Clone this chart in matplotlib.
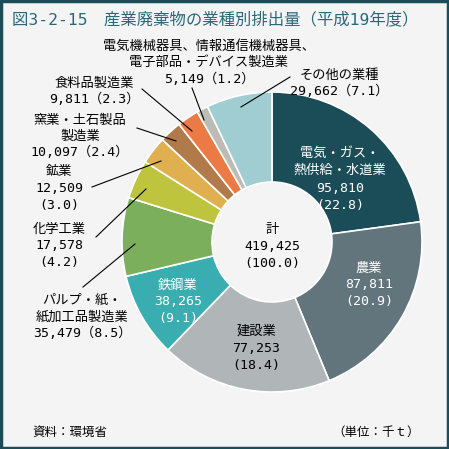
import matplotlib
matplotlib.use("Agg")
import matplotlib.pyplot as plt
from matplotlib.patches import Rectangle

plt.rcParams['font.family'] = ['DejaVu Sans Mono', 'Noto Sans CJK JP']

# data (thousand tonnes), clockwise from 12 o'clock
sectors = ['電気・ガス・熱供給・水道業', '農業', '建設業', '鉄鋼業',
           'パルプ・紙・紙加工品製造業', '化学工業', '鉱業',
           '窯業・土石製品製造業', '食料品製造業',
           '電気機械器具、情報通信機械器具、電子部品・デバイス製造業',
           'その他の業種']
values = [95810, 87811, 77253, 38265, 35479, 17578, 12509, 10097, 9811, 5149, 29662]
shares = [22.8, 20.9, 18.4, 9.1, 8.5, 4.2, 3.0, 2.4, 2.3, 1.2, 7.1]
total = 419425
colors = ['#1b4d58', '#63757c', '#b0b5b8', '#3aadb0', '#7baf5c', '#bec43e',
          '#e0b050', '#b07a4a', '#eb7a45', '#bcbcb5', '#a0cdd2']

H = 449
fig = plt.figure(figsize=(4.49, 4.49), dpi=100)
fig.patch.set_facecolor('#f4f4f4')
ax = fig.add_axes([0, 0, 1, 1])

cx, cy, r = 272, H - 242, 150
ax.pie(values, colors=colors, startangle=90, counterclock=False,
       center=(cx, cy), radius=r, frame=True,
       wedgeprops=dict(width=r * 0.6, edgecolor='white', linewidth=1.2))
ax.set_xlim(0, 449)
ax.set_ylim(0, 449)
ax.set_aspect('equal')
ax.axis('off')

ax.add_patch(Rectangle((1, 1), 447, 447, fill=False, edgecolor='#1b4d58', lw=2.5))

def fmt(v):
    return f'{v:,}'

def txt(x, y, s, color='black', ha='center', size=9.5, step=16.7):
    # one text per line so each box stays tight
    for i, part in enumerate(s.split('\n')):
        ax.text(x, H - (y + i * step), part, ha=ha, va='center', color=color, fontsize=size)

def line(x1, y1, x2, y2):
    ax.plot([x1, x2], [H - y1, H - y2], color='black', lw=0.8)

ax.text(12, H - 19, '図3-2-15　産業廃棄物の業種別排出量（平成19年度）', ha='left', va='center',
        color='#2a6878', fontsize=11.8)

# inside labels
txt(340, 153, f'電気・ガス・\n熱供給・水道業\n{fmt(values[0])}\n({shares[0]})', color='white', step=17.5)
txt(369, 268, f'農業\n{fmt(values[1])}\n({shares[1]})', color='white')
txt(256, 331, f'建設業\n{fmt(values[2])}\n({shares[2]})', step=17.5)
txt(178, 285, f'鉄鋼業\n{fmt(values[3])}\n({shares[3]})', color='white')
txt(272, 230, f'計\n{fmt(total)}\n(100.0)', step=17)

# outside labels
txt(82, 300, f'パルプ・紙・\n紙加工品製造業\n{fmt(values[4])}（{shares[4]}）')
txt(59, 229, f'化学工業\n{fmt(values[5])}\n({shares[5]})')
txt(59, 172, f'鉱業\n{fmt(values[6])}\n({shares[6]})')
txt(80, 120, f'窯業・土石製品\n製造業\n{fmt(values[7])}（{shares[7]}）', step=16)
txt(94, 83, f'食料品製造業\n{fmt(values[8])}（{shares[8]}）')
txt(209, 46, f'電気機械器具、情報通信機械器具、\n電子部品・デバイス製造業\n{fmt(values[9])}（{shares[9]}）')
txt(339, 75, f'その他の業種\n{fmt(values[10])}（{shares[10]}）', step=16)

line(83, 287, 135, 244)
line(96, 237, 146, 189)
line(92, 187, 161, 161)
line(137, 128, 176, 141)
line(142, 89, 192, 131)
line(192, 88, 204, 120)
line(290, 77, 241, 107)

txt(32, 432, '資料：環境省', ha='left', size=9)
txt(420, 432, '（単位：千ｔ）', ha='right', size=9)

fig.savefig('out.png', dpi=100, facecolor=fig.get_facecolor())
